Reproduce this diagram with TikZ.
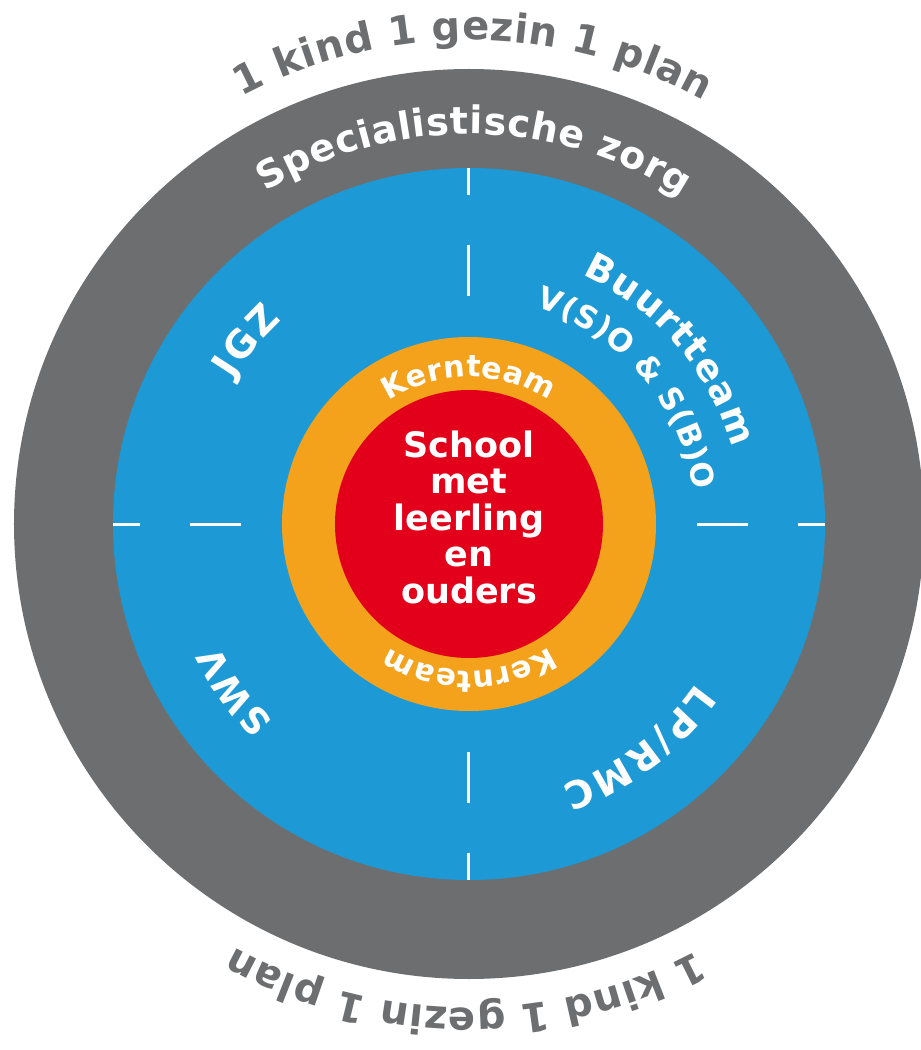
\documentclass[tikz,border=0pt]{standalone}
\usepackage{fontspec}
\setmainfont{DejaVu Sans}
\usepackage{tikz}
\usetikzlibrary{decorations.text}

\definecolor{zorggrey}{HTML}{6D6E70}
\definecolor{wijkblue}{HTML}{1D9AD6}
\definecolor{kernorange}{HTML}{F4A21B}
\definecolor{schoolred}{HTML}{E2001A}

\tikzstyle{tickline} = [white, line width=3pt]
\tikzstyle{curved} = [decorate, decoration={text along path, text align=fit to path}]

\begin{document}
\begin{tikzpicture}[x=1pt,y=1pt]
	\useasboundingbox (-469,-526) rectangle (452,524);

	% Rings:
	% From the outside in, each one filled over the one before
	\fill[zorggrey] (0,0) circle (455pt);
	\fill[wijkblue] (0,0) circle (356pt);
	\fill[kernorange] (0,0) circle (187pt);
	\fill[schoolred] (0,0) circle (134pt);

	% Ticks:
	% Two short white lines on every axis split the blue ring in quarters
	\foreach \a in {0,90,180,270}
	{
		\draw[tickline] (\a:228pt) -- (\a:279pt);
		\draw[tickline] (\a:329pt) -- (\a:356pt);
	}

	% Outer text, once on top and once turned round at the bottom
	\path[curved, decoration={text={|\fontsize{40}{40}\selectfont\bfseries\color{zorggrey}|1 kind 1 gezin 1 plan}}]
		(118:484pt) arc[start angle=118, end angle=61, radius=484pt];
	\path[curved, decoration={text={|\fontsize{40}{40}\selectfont\bfseries\color{zorggrey}|1 kind 1 gezin 1 plan}}]
		(298:484pt) arc[start angle=298, end angle=241, radius=484pt];

	% Grey ring
	\path[curved, decoration={text={|\fontsize{38}{38}\selectfont\bfseries\color{white}|Specialistische zorg}}]
		(121.5:390pt) arc[start angle=121.5, end angle=57, radius=390pt];

	% Blue quarters
	\path[curved, decoration={text={|\fontsize{38}{38}\selectfont\bfseries\color{white}|JGZ}}]
		(148.5:277pt) arc[start angle=148.5, end angle=132.5, radius=277pt];
	\path[curved, decoration={text={|\fontsize{37}{37}\selectfont\bfseries\color{white}|Buurtteam}}]
		(65.6:274pt) arc[start angle=65.6, end angle=16.2, radius=274pt];
	\path[curved, decoration={text={|\fontsize{31}{31}\selectfont\bfseries\color{white}|V(S)O {\&} S(B)O}}]
		(73:227pt) arc[start angle=73, end angle=8.6, radius=227pt];
	\path[curved, decoration={text={|\fontsize{36}{36}\selectfont\bfseries\color{white}|SWV}}]
		(225.3:278pt) arc[start angle=225.3, end angle=205.7, radius=278pt];
	\path[curved, decoration={text={|\fontsize{38}{38}\selectfont\bfseries\color{white}|LP/RMC}}]
		(-35:278pt) arc[start angle=-35, end angle=-70.6, radius=278pt];

	% Orange ring
	\path[curved, decoration={text={|\fontsize{30}{30}\selectfont\bfseries\color{white}|Kernteam}}]
		(123:147pt) arc[start angle=123, end angle=57, radius=147pt];
	\path[curved, decoration={text={|\fontsize{30}{30}\selectfont\bfseries\color{white}|Kernteam}}]
		(303:147pt) arc[start angle=303, end angle=237, radius=147pt];

	% Centre
	\node[text=white, align=center, font=\bfseries\fontsize{35}{36.5}\selectfont] (school) at (0,7)
		{School\\met\\leerling\\en\\ouders};

\end{tikzpicture}
\end{document}
